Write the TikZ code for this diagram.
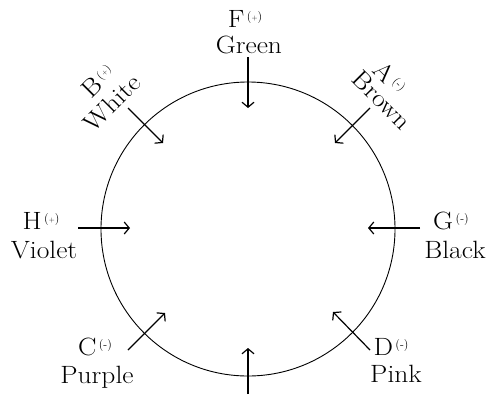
\documentclass[tikz,border=0pt]{standalone}
\usepackage{fontspec}
\usepackage{graphicx}
\usetikzlibrary{arrows.meta}
\newcommand{\sgnmark}[1]{\kern2.5pt\raisebox{7pt}{\fontsize{12}{12}\selectfont(#1)}}
\newcommand{\plusmark}{\scalebox{0.65}{+}}
\newcommand{\wtxt}[1]{\scalebox{1.1}[1]{#1}}
\tikzset{
  lbl/.style={anchor=base, inner sep=0pt, font=\fontsize{25}{27}\selectfont},
  ring/.style={draw, line width=0.9pt},
  probe/.style={line width=1.2pt, -{Straight Barb[length=5pt,width=12pt,line width=1.2pt]}}
}
\begin{document}
\begin{tikzpicture}[x=1pt,y=-1pt]
\useasboundingbox (0,0) rectangle (494,394);
\node[ring, circle, minimum size=294pt, inner sep=0pt] (c) at (248,229) {};
% arrow coordinates
\coordinate (f1) at (248,57);  \coordinate (f2) at (248,108);
\coordinate (s1) at (248,394); \coordinate (s2) at (248,348);
\coordinate (h1) at (78,228);  \coordinate (h2) at (130,228);
\coordinate (g1) at (420,228); \coordinate (g2) at (368,228);
\coordinate (b1) at (128,108); \coordinate (b2) at (163,143);
\coordinate (a1) at (370,108); \coordinate (a2) at (335,143);
\coordinate (cc1) at (128,350); \coordinate (cc2) at (165,313);
\coordinate (d1) at (370,350); \coordinate (d2) at (333,312);
\draw[probe] (f1) -- (f2);
\draw[probe] (s1) -- (s2);
\draw[probe] (h1) -- (h2);
\draw[probe] (g1) -- (g2);
\draw[probe] (b1) -- (b2);
\draw[probe] (a1) -- (a2);
\draw[probe] (cc1) -- (cc2);
\draw[probe] (d1) -- (d2);
% labels
\node[lbl] (fl) at (245,27) {\wtxt{F}\sgnmark{\plusmark}};
\node[lbl] (fc) at (249,53) {\wtxt{Green}};
\node[lbl] (hl) at (41,229) {\wtxt{H}\sgnmark{\plusmark}};
\node[lbl] (hc) at (44,258) {\wtxt{Violet}};
\node[lbl] (gl) at (451,229) {\wtxt{G}\sgnmark{-}};
\node[lbl] (gc) at (455,258) {\wtxt{Black}};
\node[lbl] (cl) at (95,355) {\wtxt{C}\sgnmark{-}};
\node[lbl] (ccol) at (97,383) {\wtxt{Purple}};
\node[lbl] (dl) at (391,355) {\wtxt{D}\sgnmark{-}};
\node[lbl] (dc) at (396,382) {\wtxt{Pink}};
\node[lbl, rotate=45] (bl) at (104,87) {\wtxt{B}\sgnmark{\plusmark}};
\node[lbl, rotate=45] (bc) at (118,109) {\wtxt{White}};
\node[lbl, rotate=-45] (al) at (384,84) {\wtxt{A}\sgnmark{-}};
\node[lbl, rotate=-45] (ac) at (376,106) {\wtxt{Brown}};
\end{tikzpicture}
\end{document}
